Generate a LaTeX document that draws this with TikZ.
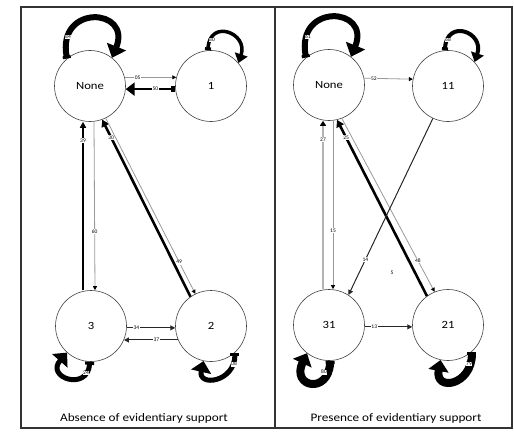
\documentclass[tikz,border=0pt]{standalone}
\usepackage{fontspec}
\usepackage{graphicx}
\setmainfont{Carlito}
\usetikzlibrary{arrows.meta,calc}
\newcommand\widetext[1]{\scalebox{1.15}[1]{#1}}

\begin{document}
\begin{tikzpicture}[x=1pt,y=-1pt,
  state/.style={circle,draw=black!75,line width=0.6pt,minimum size=71pt,inner sep=0pt,
    font=\fontsize{11}{13}\selectfont},
  lbl/.style={fill=white,inner sep=0.6pt,font=\fontsize{5.5}{6}\selectfont},
  caption/.style={font=\fontsize{11.5}{13}\selectfont},
  grayarr/.style={draw=black!40,line width=0.8pt,-{Triangle[length=4pt,width=4pt,color=black]}},
  thinarr/.style={draw=black!85,line width=1pt,-{Triangle[length=5pt,width=5pt]}},
  midarr/.style={draw=black,line width=1.8pt,-{Triangle[length=6pt,width=6pt]}},
  thickarr/.style={draw=black,line width=2.6pt,-{Triangle[length=7pt,width=8pt]}},
  loopbig/.style={draw=black,line width=6pt,{Square[length=3pt,width=8pt]}-{Triangle[length=12pt,width=20pt]}},
  loopmid/.style={draw=black,line width=3.5pt,{Square[length=3pt,width=6pt]}-{Triangle[length=9pt,width=13pt]}},
  loopfat/.style={draw=black,line width=8pt,{Square[length=3pt,width=9pt]}-{Triangle[length=11pt,width=20pt]}},
  frame/.style={draw=black!80,line width=1.5pt}]

\useasboundingbox (0,0) rectangle (514,436);

% panel frames
\draw[frame] (21,7) rectangle (512,428);
\draw[frame] (275,7) -- (275,428);

% ---------- left panel: absence of evidentiary support ----------
\node[state] (L0) at (90,86)  {\widetext{None}};
\node[state] (L1) at (211,86) {\widetext{1}};
\node[state] (L3) at (91,326) {\widetext{3}};
\node[state] (L2) at (211,326) {\widetext{2}};

\draw[loopbig] (L0.130) .. controls +(-10,-55) and +(20,-50) .. (L0.52);
\node[lbl] (l84) at (68,37) {84};

\draw[grayarr] (L0.14) -- (L1.166) node[lbl,pos=0.25] {05};
\draw[draw=black,line width=2.6pt,{Square[length=4pt,width=6pt]}-{Triangle[length=9pt,width=13pt]}]
  (L1.185) -- (L0.355) node[lbl,pos=0.4] {50};

\draw[loopmid] (L1.95) .. controls +(2,-32) and +(10,-30) .. (L1.40);
\node[lbl] (l80a) at (212,40) {80};

\draw[midarr] ([xshift=-8pt]L3.north) -- ([xshift=-7pt]L0.south) node[lbl,pos=0.89] {39};
\draw[grayarr] ([xshift=4pt]L0.south) -- ([xshift=4pt]L3.north) node[lbl,pos=0.65] {60};

\draw[thickarr] (L2.125) -- (L0.290) node[lbl,pos=0.9] {30};
\draw[grayarr] (L0.296) -- (L2.116) node[lbl,pos=0.82] {49};

\draw[thinarr] (L3.357) -- (L2.183) node[lbl,pos=0.2] {34};
\draw[thinarr] (L2.203) -- (L3.337) node[lbl,pos=0.4] {37};

\draw[loopfat,line width=5pt] (L3.268) .. controls +(-2,30) and +(-22,25) .. (L3.228);
\node[lbl] (l24) at (86,373) {24};

\draw[loopfat,line width=5pt] (L2.312) .. controls +(0,30) and +(-6,26) .. (L2.258);
\node[lbl] (l08) at (234,364) {08};

\node[caption] (capL) at (144,418) {\widetext{Absence of evidentiary support}};

% ---------- right panel: presence of evidentiary support ----------
\node[state] (R0) at (329,85)  {\widetext{None}};
\node[state] (R1) at (448,86)  {\widetext{11}};
\node[state] (R3) at (329,325) {\widetext{31}};
\node[state] (R2) at (448,325) {\widetext{21}};

\draw[loopbig] (R0.130) .. controls +(-10,-55) and +(20,-50) .. (R0.52);
\node[lbl] (l61) at (308,37) {61};

\draw[grayarr] (R0.11) -- (R1.169) node[lbl,pos=0.2] {52};

\draw[loopmid,line width=4pt] (R1.95) .. controls +(2,-32) and +(10,-30) .. (R1.42);
\node[lbl] (l68) at (448,40) {68};

\draw[draw=black!30,line width=2.2pt,-{Triangle[length=5pt,width=6pt,color=black]}]
  ([xshift=-6pt]R3.north) -- ([xshift=-6pt]R0.south) node[lbl,pos=0.89] {27};
\draw[grayarr] ([xshift=4pt]R0.south) -- ([xshift=4pt]R3.north) node[lbl,pos=0.65] {15};

\draw[thickarr] (R2.126) -- (R0.283) node[lbl,pos=0.9] {25};
\draw[grayarr] (R0.291) -- (R2.112) node[lbl,pos=0.82] {48};

\draw[thinarr] (R1.245) -- (R3.57) node[lbl,pos=0.8] {14};
\node[lbl] (l5) at (392,273) {5};

\draw[thinarr] (R3.357) -- (R2.183) node[lbl,pos=0.2] {13};

\draw[loopfat] (R3.272) .. controls +(-2,34) and +(-16,34) .. (R3.232);
\node[lbl] (l80b) at (324,372) {80};

\draw[loopfat] (R2.312) .. controls +(0,34) and +(-6,32) .. (R2.258);
\node[lbl] (l79) at (469,364) {79};

\node[caption] (capR) at (396,418) {\widetext{Presence of evidentiary support}};
\end{tikzpicture}
\end{document}
